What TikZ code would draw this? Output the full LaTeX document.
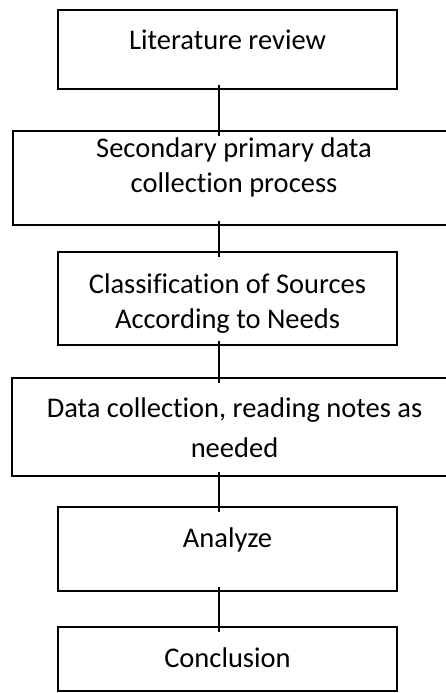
\documentclass[tikz,border=0pt]{standalone}
\usepackage{fontspec}
\setmainfont[Ligatures=NoCommon]{Carlito}
\begin{document}
\begin{tikzpicture}[x=1bp,y=-1bp,
  stepbox/.style={draw=black, line width=2.6bp, rectangle, inner sep=0pt, outer sep=0pt},
  steptext/.style={font=\fontsize{28.6}{35}\selectfont, align=center, inner sep=0pt,
                   anchor=base},
  link/.style={draw=black, line width=2.2bp, shorten <=-4bp, shorten >=-5bp}]
  \useasboundingbox (0,0) rectangle (446,693);

  % step boxes
  \node[stepbox, minimum width=339bp, minimum height=79bp] (b1) at (227.5,49.5) {};
  \node[stepbox, minimum width=443bp, minimum height=94bp] (b2) at (234.5,178) {};
  \node[stepbox, minimum width=339bp, minimum height=93bp] (b3) at (227.5,298.5) {};
  \node[stepbox, minimum width=445bp, minimum height=98bp] (b4) at (234.5,427) {};
  \node[stepbox, minimum width=339bp, minimum height=84bp] (b5) at (227.5,549) {};
  \node[stepbox, minimum width=339bp, minimum height=64bp] (b6) at (227.5,659) {};

  % box texts (one node per printed line, placed on its baseline)
  \node[steptext] (t1)  at (227.5,50)  {Literature review};
  \node[steptext] (t2a) at (234,157)   {Secondary primary data};
  \node[steptext] (t2b) at (234,192)   {collection process};
  \node[steptext] (t3a) at (227.5,293) {Classification of Sources};
  \node[steptext] (t3b) at (227.5,328) {According to Needs};
  \node[steptext] (t4a) at (234.5,417) {Data collection, reading notes as};
  \node[steptext] (t4b) at (234.5,457) {needed};
  \node[steptext] (t5)  at (227.5,547) {Analyze};
  \node[steptext] (t6)  at (227.5,667) {Conclusion};

  % vertical connectors
  \coordinate (axis) at (219,0);
  \draw[link] (b1.south -| axis) -- (b2.north -| axis);
  \draw[link] (b2.south -| axis) -- (b3.north -| axis);
  \draw[link] (b3.south -| axis) -- (b4.north -| axis);
  \draw[link] (b4.south -| axis) -- (b5.north -| axis);
  \draw[link] (b5.south -| axis) -- (b6.north -| axis);
\end{tikzpicture}
\end{document}
